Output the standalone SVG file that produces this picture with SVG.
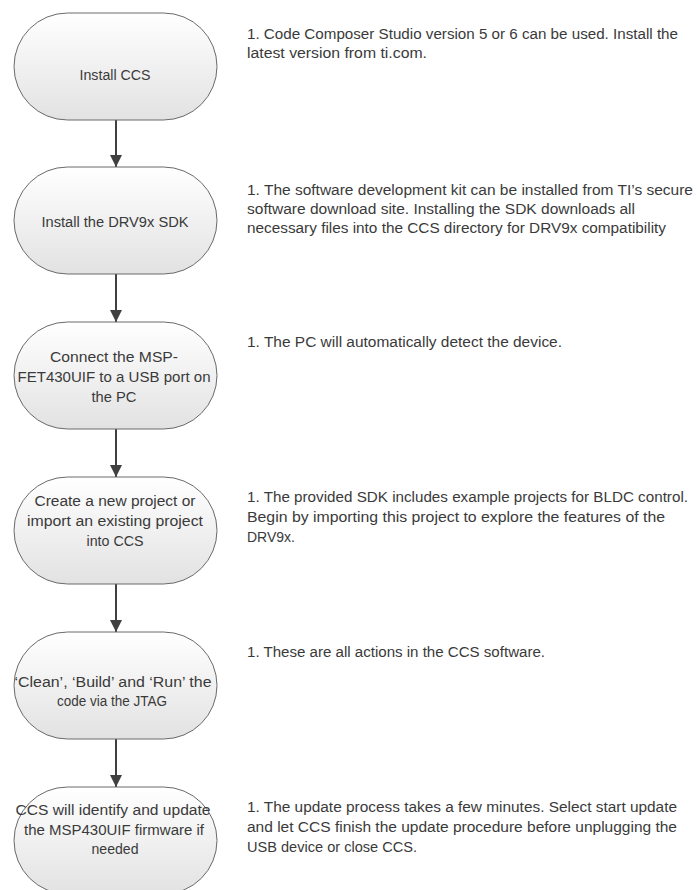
<svg xmlns="http://www.w3.org/2000/svg" width="697" height="890" viewBox="0 0 697 890">
<defs>
<linearGradient id="g" x1="0" y1="0" x2="0" y2="1">
<stop offset="0" stop-color="#ffffff"/>
<stop offset="1" stop-color="#e2e2e2"/>
</linearGradient>
<marker id="ah" markerUnits="userSpaceOnUse" markerWidth="12" markerHeight="13" refX="12" refY="6" orient="auto" viewBox="0 0 12 12">
<path d="M0,0 L12,6 L0,12 z" fill="#404040"/>
</marker>
<style>
.n{fill:url(#g);stroke:#6a6a6a;stroke-width:1}
.t{font-family:"Liberation Sans",Arial,sans-serif;font-size:14px;fill:#3a3a3a;text-anchor:middle}
.d{font-family:"Liberation Sans",Arial,sans-serif;font-size:14px;fill:#3a3a3a}
.c{stroke:#404040;stroke-width:2;fill:none;marker-end:url(#ah)}
</style>
</defs>
<rect width="697" height="890" fill="#fff"/>
<g id="connectors">
<line class="c" x1="116" y1="120" x2="116" y2="167"/>
<line class="c" x1="116" y1="274" x2="116" y2="322"/>
<line class="c" x1="116" y1="429" x2="116" y2="477"/>
<line class="c" x1="116" y1="584" x2="116" y2="632"/>
<line class="c" x1="116" y1="739" x2="116" y2="787"/>
</g>
<g id="n1">
<rect class="n" x="14" y="13" width="203" height="107" rx="53.5"/>
<text class="t" x="115" y="80" textLength="71" lengthAdjust="spacingAndGlyphs">Install CCS</text>
</g>
<g id="n2">
<rect class="n" x="14" y="167" width="203" height="107" rx="53.5"/>
<text class="t" x="115" y="227" textLength="147" lengthAdjust="spacingAndGlyphs">Install the DRV9x SDK</text>
</g>
<g id="n3">
<rect class="n" x="14" y="322" width="203" height="107" rx="53.5"/>
<text class="t" x="114" y="362" textLength="128" lengthAdjust="spacingAndGlyphs">Connect the MSP-</text>
<text class="t" x="114" y="382" textLength="193" lengthAdjust="spacingAndGlyphs">FET430UIF to a USB port on</text>
<text class="t" x="114" y="402" textLength="45" lengthAdjust="spacingAndGlyphs">the PC</text>
</g>
<g id="n4">
<rect class="n" x="14" y="477" width="203" height="107" rx="53.5"/>
<text class="t" x="115" y="506" textLength="161" lengthAdjust="spacingAndGlyphs">Create a new project or</text>
<text class="t" x="115" y="526" textLength="176" lengthAdjust="spacingAndGlyphs">import an existing project</text>
<text class="t" x="115" y="546" textLength="57" lengthAdjust="spacingAndGlyphs">into CCS</text>
</g>
<g id="n5">
<rect class="n" x="14" y="632" width="203" height="107" rx="53.5"/>
<text class="t" x="113" y="687" textLength="197" lengthAdjust="spacingAndGlyphs">‘Clean’, ‘Build’ and ‘Run’ the</text>
<text class="t" x="112" y="706" textLength="110" lengthAdjust="spacingAndGlyphs">code via the JTAG</text>
</g>
<g id="n6">
<rect class="n" x="14" y="787" width="203" height="107" rx="53.5"/>
<text class="t" x="113" y="815" textLength="195" lengthAdjust="spacingAndGlyphs">CCS will identify and update</text>
<text class="t" x="114" y="835" textLength="180" lengthAdjust="spacingAndGlyphs">the MSP430UIF firmware if</text>
<text class="t" x="115" y="854" textLength="47" lengthAdjust="spacingAndGlyphs">needed</text>
</g>
<g id="notes">
<text class="d" x="247" y="39" textLength="431" lengthAdjust="spacingAndGlyphs">1. Code Composer Studio version 5 or 6 can be used. Install the</text>
<text class="d" x="247" y="58" textLength="180" lengthAdjust="spacingAndGlyphs">latest version from ti.com.</text>
<text class="d" x="247" y="195" textLength="446" lengthAdjust="spacingAndGlyphs">1. The software development kit can be installed from TI’s secure</text>
<text class="d" x="247" y="214" textLength="388" lengthAdjust="spacingAndGlyphs">software download site. Installing the SDK downloads all</text>
<text class="d" x="247" y="233" textLength="419" lengthAdjust="spacingAndGlyphs">necessary files into the CCS directory for DRV9x compatibility</text>
<text class="d" x="247" y="347" textLength="315" lengthAdjust="spacingAndGlyphs">1. The PC will automatically detect the device.</text>
<text class="d" x="247" y="502" textLength="441" lengthAdjust="spacingAndGlyphs">1. The provided SDK includes example projects for BLDC control.</text>
<text class="d" x="247" y="522" textLength="418" lengthAdjust="spacingAndGlyphs">Begin by importing this project to explore the features of the</text>
<text class="d" x="247" y="542" textLength="48" lengthAdjust="spacingAndGlyphs">DRV9x.</text>
<text class="d" x="247" y="657" textLength="298" lengthAdjust="spacingAndGlyphs">1. These are all actions in the CCS software.</text>
<text class="d" x="247" y="812" textLength="430" lengthAdjust="spacingAndGlyphs">1. The update process takes a few minutes. Select start update</text>
<text class="d" x="247" y="832" textLength="430" lengthAdjust="spacingAndGlyphs">and let CCS finish the update procedure before unplugging the</text>
<text class="d" x="247" y="852" textLength="170" lengthAdjust="spacingAndGlyphs">USB device or close CCS.</text>
</g>
</svg>
